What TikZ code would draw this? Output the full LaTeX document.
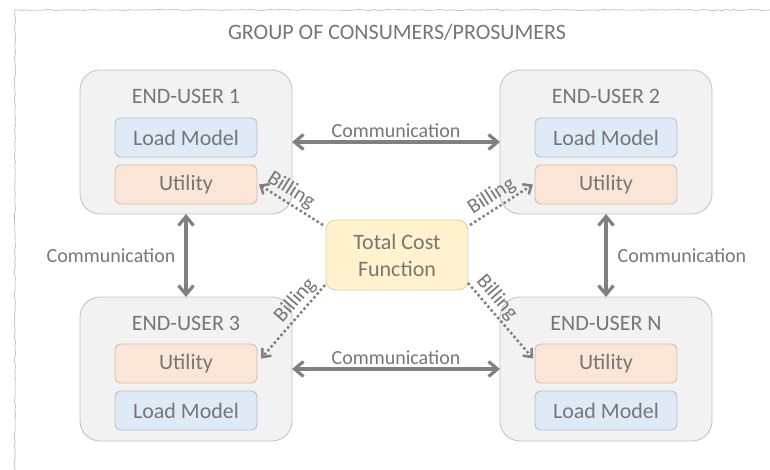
\documentclass[tikz,border=0pt]{standalone}
\usepackage{fontspec}
\setmainfont{Carlito}
\usetikzlibrary{positioning, arrows.meta, decorations.pathmorphing}
\definecolor{textgray}{RGB}{118,118,118}
\definecolor{arrowgray}{RGB}{128,128,128}
\definecolor{boxgray}{RGB}{242,242,242}
\definecolor{edgegray}{RGB}{196,196,196}
\definecolor{loadblue}{RGB}{222,235,247}
\definecolor{loadedge}{RGB}{180,192,206}
\definecolor{utilpeach}{RGB}{251,229,214}
\definecolor{utiledge}{RGB}{206,192,182}
\definecolor{costyellow}{RGB}{255,242,204}
\definecolor{costedge}{RGB}{222,208,170}
\tikzset{
	userbox/.style = {rectangle, rounded corners=20pt, draw=edgegray, line width=0.9pt, fill=boxgray, minimum width=212pt, minimum height=144pt, inner sep=0pt, outer sep=0pt},
	usertitle/.style = {text=textgray, font=\fontsize{22}{26}\selectfont, inner sep=0pt},
	loadbox/.style = {rectangle, rounded corners=6pt, draw=loadedge, line width=0.9pt, fill=loadblue, minimum width=142pt, minimum height=39pt, inner sep=0pt, outer sep=0pt, text=textgray, font=\fontsize{22}{26}\selectfont},
	utilbox/.style = {loadbox, draw=utiledge, fill=utilpeach},
	costbox/.style = {rectangle, rounded corners=10pt, draw=costedge, line width=0.9pt, fill=costyellow, minimum width=142pt, minimum height=70pt, inner sep=0pt, outer sep=0pt, text=textgray, align=center, font=\fontsize{22}{27}\selectfont},
	commlabel/.style = {text=textgray, font=\fontsize{20}{24}\selectfont, inner sep=1pt},
	billlabel/.style = {text=textgray, font=\fontsize{21}{24}\selectfont, inner sep=2pt, sloped, above},
	arrow/.style = {{Straight Barb[length=9pt, width=15pt]}-{Straight Barb[length=9pt, width=15pt]}, line width=3.2pt, draw=arrowgray},
	billing/.style = {-{Straight Barb[length=7pt, width=12pt]}, dash pattern=on 2.5pt off 2.5pt, line width=2.5pt, draw=arrowgray}
}

\begin{document}
\begin{tikzpicture}[x=1pt, y=-1pt]
		\useasboundingbox (0,0) rectangle (770,470);
		
		% Frame of the group
		\draw [textgray!60, line width=0.6pt, decorate, decoration={random steps, segment length=4pt, amplitude=0.5pt}] (770,10) -- (15,10) -- (15,470);
		\node (group_title) [usertitle] at (397,32) {GROUP OF CONSUMERS/PROSUMERS};
		
		% End-users
		\node (eu_one) [userbox] at (186,142) {};
		\node (eu_two) [userbox] at (606,142) {};
		\node (eu_three) [userbox] at (186,369) {};
		\node (eu_n) [userbox] at (606,369) {};
		
		% End-user 1
		\node (title_one) [usertitle] at ([yshift=-26pt]eu_one.north) {END-USER 1};
		\node (load_one) [loadbox, below=48pt of eu_one.north] {Load Model};
		\node (util_one) [utilbox, below=8pt of load_one] {Utility};
		
		% End-user 2
		\node (title_two) [usertitle] at ([yshift=-26pt]eu_two.north) {END-USER 2};
		\node (load_two) [loadbox, below=48pt of eu_two.north] {Load Model};
		\node (util_two) [utilbox, below=8pt of load_two] {Utility};
		
		% End-user 3
		\node (title_three) [usertitle] at ([yshift=-26pt]eu_three.north) {END-USER 3};
		\node (util_three) [utilbox, below=47pt of eu_three.north] {Utility};
		\node (load_three) [loadbox, below=8pt of util_three] {Load Model};
		
		% End-user N
		\node (title_n) [usertitle] at ([yshift=-26pt]eu_n.north) {END-USER N};
		\node (util_n) [utilbox, below=47pt of eu_n.north] {Utility};
		\node (load_n) [loadbox, below=8pt of util_n] {Load Model};
		
		% Total cost in the middle
		\node (cost_fn) [costbox] at (397,255) {Total Cost\\Function};
		
		% Communication
		\draw [arrow] (eu_one.east) -- node [commlabel, above=2pt] {Communication} (eu_two.west);
		\draw [arrow] (eu_three.east) -- node [commlabel, above=2pt] {Communication} (eu_n.west);
		\draw [arrow] (eu_one.south) -- node [commlabel, left=8pt] {Communication} (eu_three.north);
		\draw [arrow] (eu_two.south) -- node [commlabel, right=9pt] {Communication} (eu_n.north);
		
		% Billing
		\draw [billing] ([shift={(-3,5)}]cost_fn.north west) -- node [billlabel, pos=0.6] {Billing} ([xshift=2pt]util_one.east);
		\draw [billing] ([shift={(2,5)}]cost_fn.north east) -- node [billlabel, pos=0.45] {Billing} ([xshift=-2pt]util_two.west);
		\draw [billing] ([shift={(-1,-5)}]cost_fn.south west) -- node [billlabel, pos=0.32] {Billing} ([shift={(4,-5)}]util_three.east);
		\draw [billing] ([shift={(0,-7)}]cost_fn.south east) -- node [billlabel, pos=0.3] {Billing} ([shift={(-2,-5)}]util_n.west);
		
	\end{tikzpicture}
\end{document}
